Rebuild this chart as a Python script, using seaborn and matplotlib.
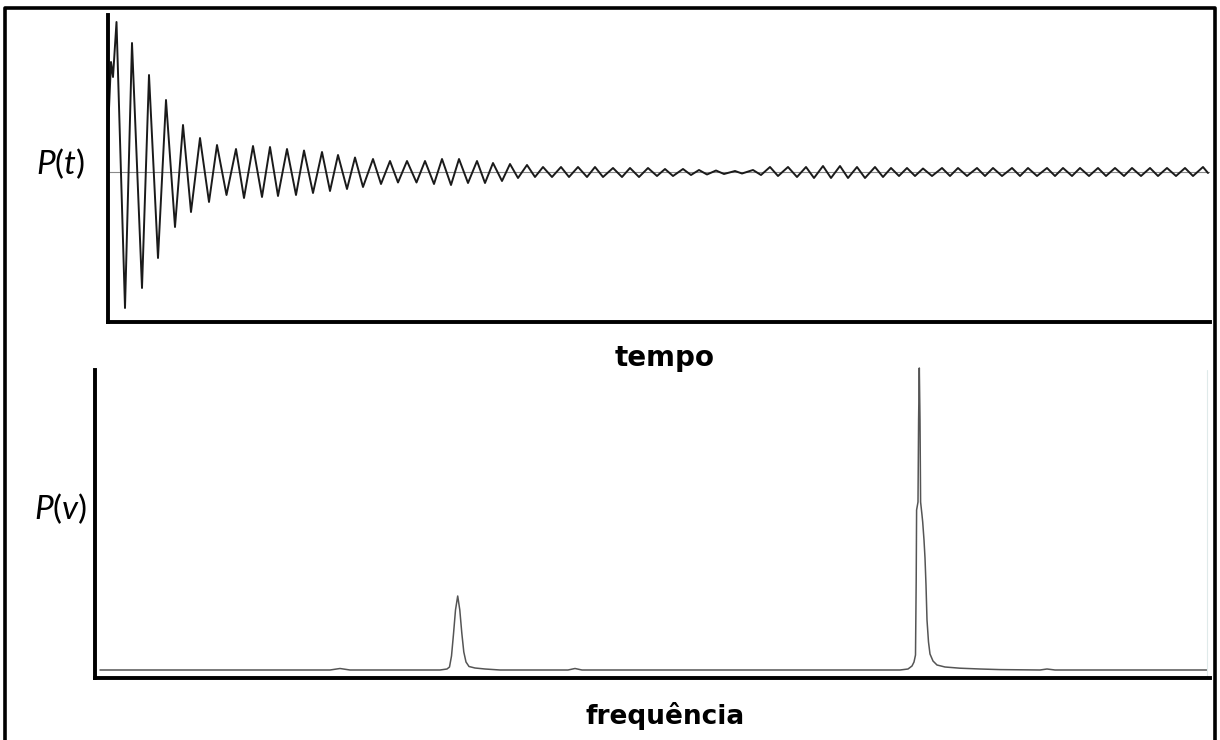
import matplotlib
matplotlib.use("Agg")
import matplotlib.pyplot as plt
import seaborn as sns
from matplotlib.lines import Line2D

sns.set_style("white")
plt.rcParams['font.family'] = ['DejaVu Sans']
plt.rcParams['text.color'] = 'black'
plt.rcParams['mathtext.fontset'] = 'custom'
plt.rcParams['mathtext.rm'] = 'Lato'
plt.rcParams['mathtext.it'] = 'Lato:italic'

# decaying signal P(t): extrema (time, amplitude)
t_signal = [0, 3, 5, 8.5, 17, 24, 34, 41, 50, 58, 67, 75, 83, 92, 101, 109, 118.5,
            128, 136, 145, 154, 162, 170, 179, 188, 196, 205, 214, 222, 230, 239,
            247, 255, 265, 273, 282, 290, 299, 308.5, 317, 326, 334, 343, 351, 360,
            369, 377, 385, 394, 402, 410, 419, 427, 435, 444, 453, 461, 470, 479,
            487, 495, 505, 514, 522, 531, 540, 549, 557, 565, 575, 583, 591, 599,
            608, 616, 627, 634, 645, 653, 662, 670, 680, 689, 698, 706, 715, 723,
            732, 740, 749, 757, 767, 775, 783, 791, 799, 807, 815, 824, 834, 842,
            850, 859, 869, 877, 885, 894, 904, 912, 920, 929, 939, 947, 955, 964,
            972, 981, 990, 998, 1007, 1016, 1024, 1033, 1042, 1050, 1059, 1068,
            1077, 1085, 1095, 1100]
p_signal = [40, 110, 95, 150, -136, 129, -116, 97, -86, 72, -55, 47, -40, 34, -30,
            27, -23, 23, -26, 26, -25, 25, -24, 23, -23, 21.5, -21, 20, -19, 17,
            -17, 14.5, -15, 13, -12, 11, -10.5, 11, -10.5, 11, -12, 13, -13, 13,
            -11, 11, -11, 9, -9, 8, -6, 7, -5, 5, -5, 5, -5, 5, -5, 5, -5, 4, -5,
            4, -5, 4, -4, 3, -4, 3, -3, 2, -2.5, 1.5, -2, 1, -1.5, 2, -3, 5, -4, 5,
            -5, 5, -6, 6, -6, 6, -6, 5, -6, 5, -5, 4, -4, 4, -4, 3.5, -4, 4, -4, 4,
            -4, 4, -4, 4, -4, 4, -4, 4, -4, 4, -4, 4, -4, 4, -4, 4, -4, 4, -4, 4,
            -4, 4, -4, 4, -4, 4, -4, 5, -1]

# spectrum P(v): points (frequency, intensity)
f_spec = [5, 235, 245, 255, 345, 352, 354.5, 356.5, 358.5, 360.5, 362.7, 364.8,
          366.8, 368.8, 371, 374, 380, 390, 405, 473, 480, 487,
          805, 813, 817, 819, 820.5, 821.2, 821.6, 823, 823.6, 824.3, 825, 825.6,
          827, 827.7, 829, 830, 831, 832, 833.5, 835, 838, 842, 850, 865, 885,
          905, 945, 952, 960, 1112]
i_spec = [0, 0, 1.5, 0, 0, 1, 3, 14, 36, 60, 74, 60, 37, 18, 8, 3.5, 2, 1, 0, 0,
          1.5, 0,
          0, 1, 4, 8, 15, 90, 160, 168, 250, 302, 250, 168,
          155, 148, 130, 112, 85, 50, 28, 16, 9, 5, 3, 1.8, 1,
          0.4, 0, 1, 0, 0]

fig = plt.figure(figsize=(12.2, 7.4), dpi=100)

ax1 = fig.add_axes([108 / 1220, 1 - 322 / 740, 1102 / 1220, 307 / 740])
ax1.axhline(0, color='#8a8a8a', lw=0.8)
sns.lineplot(x=t_signal, y=p_signal, ax=ax1, color='#1a1a1a', lw=1.4,
             estimator=None, sort=False)
ax1.set_xlim(0, 1102)
ax1.set_ylim(-150, 157)

ax2 = fig.add_axes([95 / 1220, 1 - 678 / 740, 1115 / 1220, 308 / 740])
sns.lineplot(x=f_spec, y=i_spec, ax=ax2, color='#555555', lw=1.1,
             estimator=None, sort=False, clip_on=False)
ax2.axvline(1112, color='#dfeaea', lw=0.8)
ax2.set_xlim(0, 1115)
ax2.set_ylim(-8, 300)

for ax in (ax1, ax2):
    sns.despine(ax=ax)
    ax.spines['left'].set_linewidth(2.8)
    ax.spines['bottom'].set_linewidth(2.8)
    ax.spines['left'].set_color('black')
    ax.spines['bottom'].set_color('black')
    ax.set_xticks([])
    ax.set_yticks([])
    ax.set_xlabel('')
    ax.set_ylabel('')

fig.text(60 / 1220, 1 - 164 / 740, '$P(t)$', fontsize=24, ha='center', va='center')
fig.text(61 / 1220, 1 - 509 / 740, '$P(v)$', fontsize=24, ha='center', va='center')
fig.text(665 / 1220, 1 - 358 / 740, 'tempo', fontsize=20, fontweight='bold',
         ha='center', va='center')
fig.text(665 / 1220, 1 - 716 / 740, 'frequência', fontsize=19, fontweight='bold',
         ha='center', va='center')

# outer frame (bottom edge is cut off in the reference)
fig.add_artist(Line2D([4.5 / 1220, 4.5 / 1220, 1215 / 1220, 1215 / 1220],
                      [-0.01, 1 - 7.5 / 740, 1 - 7.5 / 740, -0.01],
                      transform=fig.transFigure, color='black', lw=2.6))

fig.savefig('out.png', dpi=100)
